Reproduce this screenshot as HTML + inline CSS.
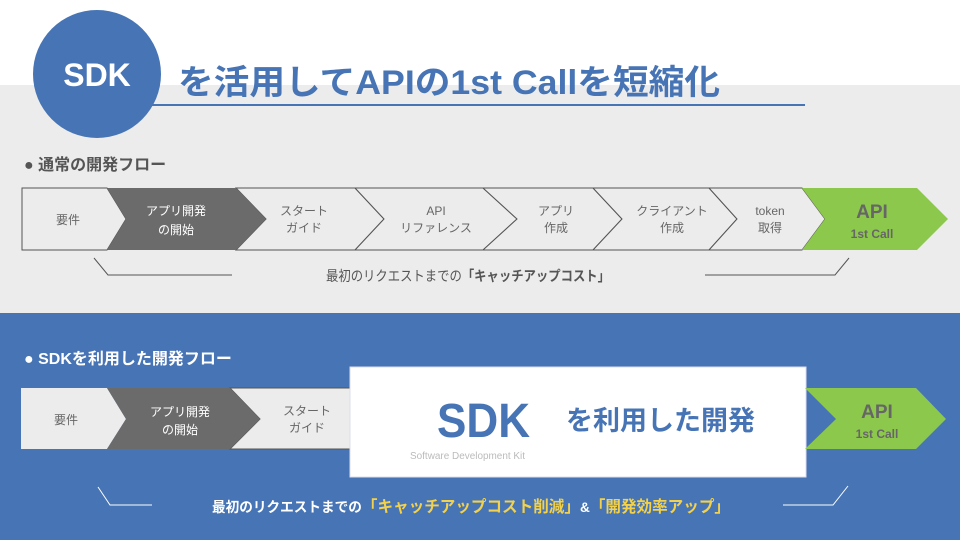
<!DOCTYPE html>
<html><head><meta charset="utf-8"><style>
html,body{margin:0;padding:0;width:960px;height:540px;overflow:hidden;background:#fff}
svg text{font-family:"Liberation Sans","Noto Sans CJK JP",sans-serif}
</style></head><body>
<svg width="960" height="540" viewBox="0 0 960 540" xmlns="http://www.w3.org/2000/svg">
<rect x="0" y="0" width="960" height="85" fill="#fff"/>
<rect x="0" y="85" width="960" height="228" fill="#ececec"/>
<rect x="0" y="313" width="960" height="227" fill="#4674b5"/>
<!-- title -->
<line x1="95" y1="105" x2="805" y2="105" stroke="#4674b5" stroke-width="2"/>
<circle cx="97" cy="74" r="64" fill="#4674b5"/>
<text x="97" y="86" text-anchor="middle" font-size="32" font-weight="bold" fill="#fff">SDK</text>
<text x="178" y="94" font-size="34" font-weight="bold" fill="#4674b5" textLength="542" lengthAdjust="spacingAndGlyphs">を活用してAPIの1st Callを短縮化</text>
<!-- section 1 -->
<text x="24" y="170" font-size="16" font-weight="bold" fill="#555">● 通常の開発フロー</text>
<g stroke="#555" stroke-width="1">
<polygon points="22,188 107,188 126,219 107,250 22,250" fill="#ececec"/>
<polygon points="236,188 355,188 384,219 355,250 236,250 266,219" fill="#ececec"/>
<polygon points="355,188 483,188 517,219 483,250 355,250 384,219" fill="#ececec"/>
<polygon points="483,188 593,188 622,219 593,250 483,250 517,219" fill="#ececec"/>
<polygon points="593,188 709,188 737,219 709,250 593,250 622,219" fill="#ececec"/>
<polygon points="709,188 802,188 825,219 802,250 709,250 737,219" fill="#ececec"/>
</g>
<polygon points="107,188 236,188 266,219 236,250 107,250 126,219" fill="#6b6b6b"/>
<polygon points="802,188 917,188 948,219 917,250 802,250 825,219" fill="#8cc84b"/>
<g font-size="12" fill="#666" text-anchor="middle">
<text x="68" y="224">要件</text>
<text x="176" y="215" fill="#fff">アプリ開発</text><text x="176" y="234" fill="#fff">の開始</text>
<text x="304" y="215">スタート</text><text x="304" y="232">ガイド</text>
<text x="436" y="215">API</text><text x="436" y="232">リファレンス</text>
<text x="556" y="215">アプリ</text><text x="556" y="232">作成</text>
<text x="672" y="215">クライアント</text><text x="672" y="232">作成</text>
<text x="770" y="215">token</text><text x="770" y="232">取得</text>
<text x="872" y="218" font-size="19" font-weight="bold" fill="#666">API</text>
<text x="872" y="238" font-size="12" font-weight="bold" fill="#666">1st Call</text>
</g>
<polyline points="94,258 108,275 232,275" fill="none" stroke="#555" stroke-width="1"/>
<polyline points="849,258 835,275 705,275" fill="none" stroke="#555" stroke-width="1"/>
<text x="326" y="281" font-size="14" fill="#555" textLength="284" lengthAdjust="spacingAndGlyphs">最初のリクエストまでの<tspan font-weight="bold">「キャッチアップコスト」</tspan></text>
<!-- section 2 -->
<text x="24" y="364" font-size="16" font-weight="bold" fill="#fff">● SDKを利用した開発フロー</text>
<polygon points="21,388 107,388 126,419 107,449 21,449" fill="#ececec"/>
<polygon points="230,388 350,388 380,419 350,449 230,449 260,419" fill="#ececec" stroke="#555" stroke-width="1"/>
<polygon points="107,388 230,388 260,419 230,449 107,449 126,419" fill="#6b6b6b"/>
<rect x="350" y="367" width="456" height="110" fill="#fff" stroke="#dde" stroke-width="1"/>
<polygon points="805,388 916,388 946,419 916,449 805,449 836,419" fill="#8cc84b"/>
<g font-size="12" fill="#666" text-anchor="middle">
<text x="66" y="424">要件</text>
<text x="180" y="416" fill="#fff">アプリ開発</text><text x="180" y="434" fill="#fff">の開始</text>
<text x="307" y="415">スタート</text><text x="307" y="432">ガイド</text>
<text x="877" y="418" font-size="19" font-weight="bold">API</text>
<text x="877" y="438" font-size="12" font-weight="bold">1st Call</text>
</g>
<text x="437" y="437" font-size="48" font-weight="bold" fill="#4674b5" textLength="93" lengthAdjust="spacingAndGlyphs">SDK</text>
<text x="566" y="430" font-size="27" font-weight="bold" fill="#4674b5">を利用した開発</text>
<text x="410" y="459" font-size="10" fill="#bbb" textLength="115" lengthAdjust="spacingAndGlyphs">Software Development Kit</text>
<polyline points="98,487 110,505 152,505" fill="none" stroke="#fff" stroke-width="1"/>
<polyline points="848,486 833,505 783,505" fill="none" stroke="#fff" stroke-width="1"/>
<text x="212" y="512" font-size="14" font-weight="bold" fill="#fff" textLength="518" lengthAdjust="spacingAndGlyphs">最初のリクエストまでの<tspan fill="#f3d14a" font-size="16">「キャッチアップコスト削減」</tspan>&amp;<tspan fill="#f3d14a" font-size="16">「開発効率アップ」</tspan></text>
</svg>
</body></html>
